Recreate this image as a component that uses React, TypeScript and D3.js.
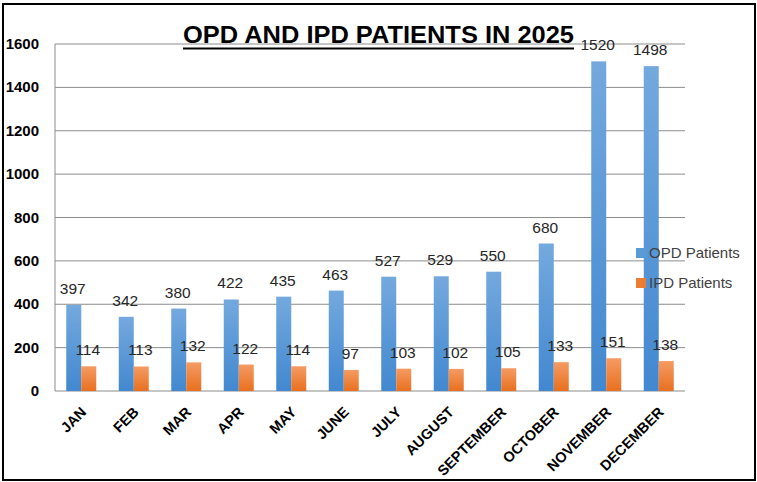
import React from 'react';
import * as d3 from 'd3';

const months = ['JAN', 'FEB', 'MAR', 'APR', 'MAY', 'JUNE', 'JULY', 'AUGUST', 'SEPTEMBER', 'OCTOBER', 'NOVEMBER', 'DECEMBER'];
const opdPatients = [397, 342, 380, 422, 435, 463, 527, 529, 550, 680, 1520, 1498];
const ipdPatients = [114, 113, 132, 122, 114, 97, 103, 102, 105, 133, 151, 138];
const seriesNames = ['OPD Patients', 'IPD Patients'];
const yTicks = [0, 200, 400, 600, 800, 1000, 1200, 1400, 1600];

const W = 757;
const H = 482;
const FONT = '"Liberation Sans", Arial, sans-serif';

export default function App() {
  const plot = { left: 55, right: 685, top: 44, bottom: 391 };

  const x0 = d3.scaleBand<string>().domain(months).range([plot.left, plot.right]).padding(0);
  const barW = 15;
  const x1 = d3.scaleBand<string>()
    .domain(seriesNames)
    .range([x0.bandwidth() / 2 - barW, x0.bandwidth() / 2 + barW]);
  const y = d3.scaleLinear().domain([0, 1600]).range([plot.bottom, plot.top]);

  const series = [
    { name: seriesNames[0], values: opdPatients, fill: 'url(#gradBlue)', swatch: '#5b9bd5' },
    { name: seriesNames[1], values: ipdPatients, fill: 'url(#gradOrange)', swatch: '#ed7d31' },
  ];

  return (
    <div style={{ position: 'absolute', left: 0, top: 0 }}>
      <svg width={W} height={H} style={{ display: 'block', background: '#fff' }}>
        <defs>
          <linearGradient id="gradBlue" x1="0" y1="0" x2="0" y2="1">
            <stop offset="0%" stopColor="#74a9de" />
            <stop offset="100%" stopColor="#4288d0" />
          </linearGradient>
          <linearGradient id="gradOrange" x1="0" y1="0" x2="0" y2="1">
            <stop offset="0%" stopColor="#f59b63" />
            <stop offset="100%" stopColor="#e8701f" />
          </linearGradient>
        </defs>

        {/* gridlines */}
        {yTicks.map(t => (
          <line key={t} x1={plot.left} x2={plot.right} y1={y(t)} y2={y(t)} stroke="#8c8c8c" strokeWidth={1} />
        ))}
        <line x1={plot.left} x2={plot.left} y1={plot.top} y2={plot.bottom} stroke="#8c8c8c" strokeWidth={1} />

        {/* y tick labels */}
        {yTicks.map(t => (
          <text key={t} x={39} y={y(t) + 5} textAnchor="end" fontFamily={FONT} fontWeight="bold" fontSize={15} fill="#000">
            {t}
          </text>
        ))}

        {/* bars */}
        {series.map(s => (
          <g key={s.name}>
            {s.values.map((v, i) => {
              const bx = x0(months[i])! + x1(s.name)!;
              return (
                <rect key={i} x={bx} y={y(v)} width={x1.bandwidth()} height={y(0) - y(v)} fill={s.fill} />
              );
            })}
          </g>
        ))}

        {/* data labels */}
        {series.map(s => (
          <g key={s.name + '-lab'}>
            {s.values.map((v, i) => {
              const cx = x0(months[i])! + x1(s.name)! + x1.bandwidth() / 2 - 1;
              return (
                <text key={i} x={cx} y={y(v) - 11} textAnchor="middle" fontFamily={FONT} fontSize={15.5} fill="#262626">
                  {v}
                </text>
              );
            })}
          </g>
        ))}

        {/* x axis labels */}
        {months.map(m => {
          const cx = x0(m)! + x0.bandwidth() / 2;
          const ax = cx + 6;
          const ay = 413;
          return (
            <text key={m} x={ax} y={ay} transform={`rotate(-45, ${ax}, ${ay})`} textAnchor="end"
              fontFamily={FONT} fontWeight="bold" fontSize={14.5} fill="#000">
              {m}
            </text>
          );
        })}

        {/* title */}
        <text x={183} y={43} textLength={391} lengthAdjust="spacingAndGlyphs" fontFamily={FONT} fontWeight="bold" fontSize={23} fill="#000">
          OPD AND IPD PATIENTS IN 2025
        </text>
        <line x1={183} x2={574} y1={48.5} y2={48.5} stroke="#000" strokeWidth={2} />

        {/* legend */}
        {series.map((s, i) => (
          <g key={s.name + '-leg'} transform={`translate(636, ${248 + i * 30})`}>
            <rect x={0} y={0} width={10} height={10} fill={s.swatch} />
            <text x={13} y={10} fontFamily={FONT} fontSize={15} fill="#404040">{s.name}</text>
          </g>
        ))}

        {/* chart border */}
        <path d={`M3,4 H755 V480 H3 Z`} fill="none" stroke="#000" strokeWidth={2} />
      </svg>
    </div>
  );
}
